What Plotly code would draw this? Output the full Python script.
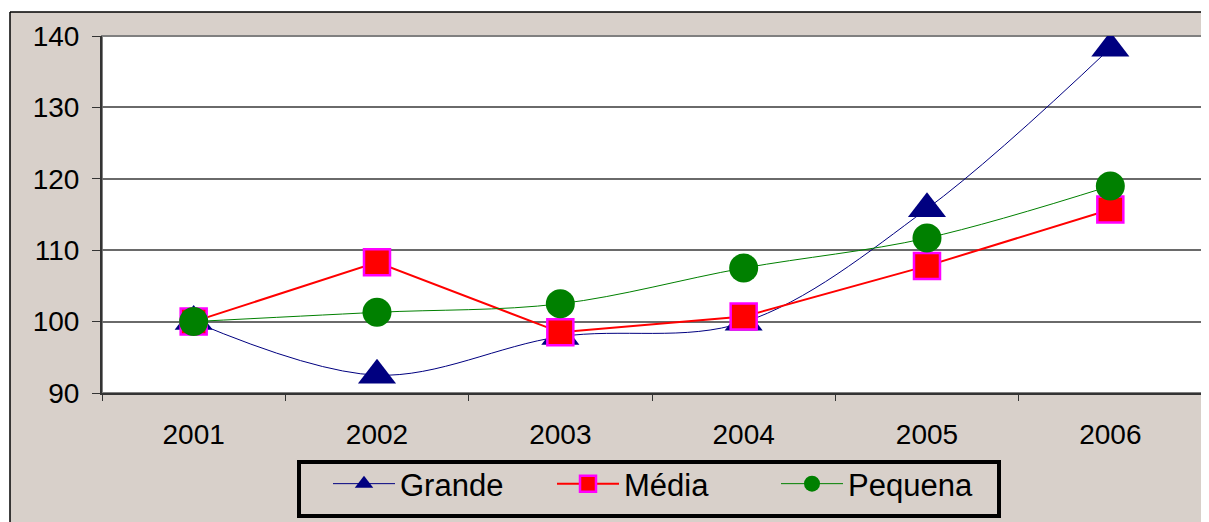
import plotly.graph_objects as go

years = ["2001", "2002", "2003", "2004", "2005", "2006"]
grande = [100.0, 92.5, 97.9, 99.9, 115.8, 138.3]
media = [100.0, 108.3, 98.5, 100.7, 107.8, 115.7]
pequena = [100.0, 101.3, 102.5, 107.5, 111.7, 119.0]

# page has an 8px body margin, so the figure sits at (8, 8)
OFF = 8
W, H = 1209 - OFF, 522 - OFF
L, R, T, B = 102 - OFF, 7, 36 - OFF, 129
pw = W - L - R
ph = H - T - B

def px2x(p):  # page px -> paper x
    return (p - OFF - L) / pw

def px2y(p):  # page px -> paper y
    return (H - B - (p - OFF)) / ph

TAN = "#d8d0ca"
FONT = "Liberation Sans, Arial, sans-serif"

fig = go.Figure()
fig.add_trace(go.Scatter(
    x=years, y=grande, name="Grande", mode="lines+markers",
    line=dict(color="#000080", width=1, shape="spline", smoothing=1),
    marker=dict(symbol="triangle-up", size=33, color="#000080"),
))
fig.add_trace(go.Scatter(
    x=years, y=media, name="Média", mode="lines+markers",
    line=dict(color="#ff0000", width=2),
    marker=dict(symbol="square", size=26, color="#ff0000",
                line=dict(color="#ff00ff", width=2.5)),
))
fig.add_trace(go.Scatter(
    x=years, y=pequena, name="Pequena", mode="lines+markers",
    line=dict(color="#008000", width=1, shape="spline", smoothing=1),
    marker=dict(symbol="circle", size=29, color="#008000"),
))

shapes = [
    dict(type="rect", xref="paper", yref="paper", x0=px2x(-5), x1=px2x(10),
         y0=px2y(H + 30), y1=px2y(-10), fillcolor="white", line_width=0, layer="below"),
    dict(type="rect", xref="paper", yref="paper", x0=px2x(-5), x1=px2x(1240),
         y0=px2y(12), y1=px2y(-10), fillcolor="white", line_width=0, layer="below"),
    dict(type="line", xref="paper", yref="paper", x0=px2x(10), x1=px2x(10),
         y0=px2y(12), y1=px2y(540), line=dict(color="black", width=1.5)),
    dict(type="line", xref="paper", yref="paper", x0=px2x(10), x1=px2x(1240),
         y0=px2y(12), y1=px2y(12), line=dict(color="black", width=1.5)),
    dict(type="rect", xref="paper", yref="paper", x0=0, x1=1, y0=0, y1=1,
         line=dict(color="#808080", width=2), layer="below"),
    # legend frame
    dict(type="rect", xref="paper", yref="paper", x0=px2x(299), x1=px2x(999),
         y0=px2y(516), y1=px2y(462), line=dict(color="black", width=4),
         fillcolor="rgba(0,0,0,0)"),
]

fig.update_layout(
    width=W, height=H,
    margin=dict(l=L, r=R, t=T, b=B, autoexpand=False),
    paper_bgcolor=TAN, plot_bgcolor="white",
    font=dict(family=FONT, color="black", size=28),
    showlegend=True,
    legend=dict(
        orientation="h", x=px2x(328), y=px2y(457), xanchor="left", yanchor="top",
        bgcolor="rgba(0,0,0,0)", borderwidth=0,
        font=dict(size=31, family=FONT), entrywidth=147, entrywidthmode="pixels",
        itemwidth=62,
    ),
    shapes=shapes,
)
fig.update_xaxes(
    type="category", range=[-0.5, 5.5], tickson="boundaries",
    ticks="outside", ticklen=6, tickcolor="#333", tickwidth=1,
    showline=True, linecolor="#333", linewidth=2,
    showgrid=False, tickfont=dict(size=28), ticklabelstandoff=15,
)
fig.update_yaxes(
    range=[90, 140], dtick=10, tick0=90,
    ticks="outside", ticklen=8, tickcolor="#333", tickwidth=1,
    showline=True, linecolor="#333", linewidth=2,
    showgrid=True, gridcolor="#6a6a6a", gridwidth=1.5,
    zeroline=False, tickfont=dict(size=28), ticklabelstandoff=7,
)

fig.write_html("out.html")
